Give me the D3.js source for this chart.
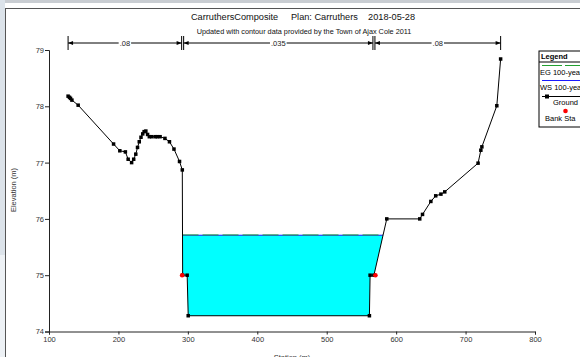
<!DOCTYPE html>
<html><head><meta charset="utf-8">
<script src="https://cdn.jsdelivr.net/npm/d3@7"></script>
<style>
body{margin:0;background:#fff}
svg{display:block;font-family:"Liberation Sans",Arial,sans-serif}
</style>
</head><body><svg width="580" height="357"></svg>
<script>
// ground profile
const groundSta  = [127.5,129.5,131,133,142,193,202,210,214,219,222,225,227.5,230,232.5,235,237,239.5,242,244.5,248,253,256,260,267,273.5,280,288,292,292.5,299,300.5,561.5,562.5,568,586.5,634,638,650,657,664.5,670,718,722,723.5,745,750.5];
const groundElev = [78.18,78.16,78.14,78.11,78.02,77.33,77.21,77.19,77.06,77.0,77.06,77.15,77.27,77.37,77.45,77.51,77.55,77.56,77.5,77.46,77.46,77.46,77.46,77.46,77.43,77.37,77.24,77.02,76.87,75.0,75.0,74.28,74.28,75.0,75.0,76.0,76.0,76.08,76.31,76.41,76.44,76.48,76.99,77.22,77.28,78.01,78.84];
const bankSta  = [292.5, 568];
const bankElev = [75.0, 75.0];
const wsElev = 75.71;
const egElev = 75.715;
// manning n
const nBreaks = [127.5, 292.5, 568, 750.5];
const nValues = [".08", ".035", ".08"];
const xTicks = [100,200,300,400,500,600,700,800];
const yTicks = [74,75,76,77,78,79];
const legendItems = ["EG 100-year","WS 100-year","Ground","Bank Sta"];

const svg = d3.select("svg");

// window frame
svg.append("rect").attr("x",0).attr("y",0).attr("width",580).attr("height",3).attr("fill","#c9cdd2");
svg.append("rect").attr("x",0).attr("y",0).attr("width",5).attr("height",357).attr("fill","#dce3ea");
svg.append("rect").attr("x",0).attr("y",255).attr("width",5).attr("height",102).attr("fill","#edf1f5");
svg.append("line").attr("x1",5.5).attr("x2",5.5).attr("y1",8).attr("y2",357).attr("stroke","#555");
svg.append("line").attr("x1",5.5).attr("x2",580).attr("y1",8.5).attr("y2",8.5).attr("stroke","#555");

const x = d3.scaleLinear().domain([100,800]).range([49,535]);
const y = d3.scaleLinear().domain([74,79]).range([331.5,50]);

// titles
svg.append("text").attr("x",303).attr("y",20).attr("text-anchor","middle")
   .attr("font-size",9.2).attr("fill","#111").attr("xml:space","preserve")
   .text("CarruthersComposite     Plan: Carruthers    2018-05-28");
svg.append("text").attr("x",304).attr("y",34).attr("text-anchor","middle")
   .attr("font-size",7.3).attr("fill","#111")
   .text("Updated with contour data provided by the Town of Ajax Cole 2011");

// axes
const minorY = d3.range(74,79.001,0.2);
const minorX = d3.range(100,800.001,20);
const gy = svg.append("g").attr("transform","translate(49,0)");
gy.call(d3.axisLeft(y).tickValues(minorY).tickSize(3).tickFormat(""));
gy.call(d3.axisLeft(y).tickValues(yTicks).tickSize(4).tickFormat(d3.format("d")));
const gx = svg.append("g").attr("transform","translate(0,331.5)");
gx.call(d3.axisBottom(x).tickValues(minorX).tickSize(3).tickFormat(""));
gx.call(d3.axisBottom(x).tickValues(xTicks).tickSize(3).tickFormat(d3.format("d")));
svg.selectAll(".domain").attr("stroke","#222");
svg.selectAll(".tick line").attr("stroke","#222");
svg.selectAll(".tick text").attr("font-size",7.5).attr("fill","#333").attr("font-family","Liberation Sans, Arial");
gy.selectAll(".tick text").attr("x",-5);
gx.selectAll(".tick text").attr("y",5);

svg.append("text").attr("x",292).attr("y",360).attr("text-anchor","middle")
   .attr("font-size",7.5).attr("fill","#333").text("Station (m)");
svg.append("text").attr("transform","translate(16,190) rotate(-90)").attr("text-anchor","middle")
   .attr("font-size",7.5).attr("fill","#333").text("Elevation (m)");

// water polygon: ground below water surface between the two crossings
const pts = groundSta.map((s,i)=>[s,groundElev[i]]);
let poly = [];
for (let i=0;i<pts.length-1;i++){
  const a = pts[i], b = pts[i+1];
  const aBelow = a[1] < wsElev, bBelow = b[1] < wsElev;
  if (aBelow) poly.push(a);
  if (aBelow != bBelow){
    const t = (wsElev - a[1])/(b[1]-a[1]);
    poly.push([a[0] + t*(b[0]-a[0]), wsElev]);
  }
}
svg.append("polygon")
   .attr("points", poly.map(p=>`${x(p[0])},${y(p[1])}`).join(" "))
   .attr("fill","#00ffff");
const wl = poly.filter(p=>p[1]==wsElev).map(p=>p[0]);
svg.append("line").attr("x1",x(wl[0])).attr("x2",x(wl[wl.length-1]))
   .attr("y1",y(wsElev)).attr("y2",y(wsElev)).attr("stroke","#1a1aff").attr("stroke-width",1);
svg.append("line").attr("x1",x(wl[0])).attr("x2",x(wl[wl.length-1]))
   .attr("y1",y(egElev)).attr("y2",y(egElev)).attr("stroke","#22a030").attr("stroke-width",1)
   .attr("stroke-dasharray","16,4");

// ground line
const line = d3.line().x(d=>x(d[0])).y(d=>y(d[1]));
svg.append("path").datum(pts).attr("d",line).attr("fill","none").attr("stroke","#000").attr("stroke-width",1);
svg.selectAll("rect.gp").data(pts).join("rect").attr("class","gp")
   .attr("x",d=>x(d[0])-1.75).attr("y",d=>y(d[1])-1.75).attr("width",3.5).attr("height",3.5).attr("fill","#000");

// bank stations
svg.selectAll("circle.bank").data(bankSta).join("circle").attr("class","bank")
   .attr("cx",(d,i)=>x(d)+(i==0?-0.5:1.5)).attr("cy",(d,i)=>y(bankElev[i]))
   .attr("r",2.3).attr("fill","#ff0000");

// manning n markers
const ny = 43;
for (let i=0;i<nValues.length;i++){
  const x0 = x(nBreaks[i]) + (i>0?1:0), x1 = x(nBreaks[i+1]) - (i<nValues.length-1?1:0);
  svg.append("line").attr("x1",x0).attr("x2",x1).attr("y1",ny).attr("y2",ny).attr("stroke","#000");
  [x0,x1].forEach(xx=>svg.append("line").attr("x1",xx).attr("x2",xx).attr("y1",36).attr("y2",50).attr("stroke","#000"));
  svg.append("path").attr("d",`M${x0},${ny}l5,-2v4z`).attr("fill","#000");
  svg.append("path").attr("d",`M${x1},${ny}l-5,-2v4z`).attr("fill","#000");
  const cx = (x0+x1)/2;
  const t = svg.append("text").attr("x",cx).attr("y",ny+2.6).attr("text-anchor","middle")
     .attr("font-size",7.5).attr("fill","#222").text(nValues[i]);
  const bb = t.node().getBBox();
  svg.insert("rect",()=>t.node()).attr("x",bb.x-1).attr("y",ny-1).attr("width",bb.width+2).attr("height",2).attr("fill","#fff");
}

// legend
const lg = svg.append("g").attr("transform","translate(539,51)");
lg.append("rect").attr("width",80).attr("height",76).attr("fill","#fff").attr("stroke","#000");
lg.append("text").attr("x",2).attr("y",8).attr("font-size",7.5).attr("font-weight","bold").text("Legend");
lg.append("line").attr("x1",0).attr("x2",80).attr("y1",11).attr("y2",11).attr("stroke","#000");
lg.append("line").attr("x1",3).attr("x2",80).attr("y1",14.5).attr("y2",14.5).attr("stroke","#22a030").attr("stroke-dasharray","20,3");
lg.append("text").attr("x",1).attr("y",24).attr("font-size",7.5).text(legendItems[0]);
lg.append("line").attr("x1",3).attr("x2",80).attr("y1",29.5).attr("y2",29.5).attr("stroke","#1a1aff");
lg.append("text").attr("x",1).attr("y",39).attr("font-size",7.5).text(legendItems[1]);
lg.append("line").attr("x1",3).attr("x2",80).attr("y1",45.5).attr("y2",45.5).attr("stroke","#000");
lg.append("rect").attr("x",6).attr("y",43.5).attr("width",4).attr("height",4).attr("fill","#000");
lg.append("text").attr("x",14).attr("y",54).attr("font-size",7.5).text(legendItems[2]);
lg.append("circle").attr("cx",26.5).attr("cy",60).attr("r",2.3).attr("fill","#ff0000");
lg.append("text").attr("x",6).attr("y",70).attr("font-size",7.5).text(legendItems[3]);
</script>
</body></html>
